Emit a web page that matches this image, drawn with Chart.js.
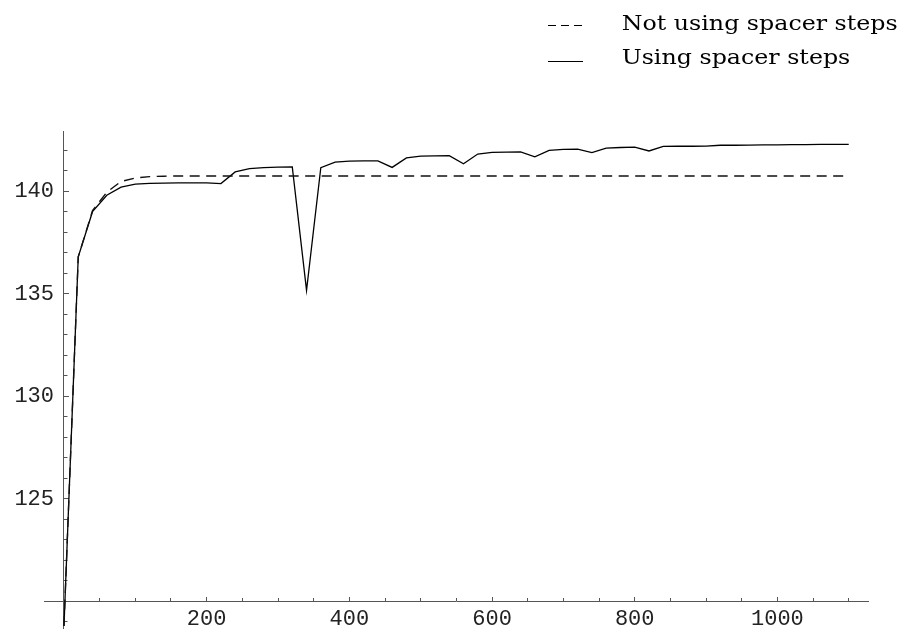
<!DOCTYPE html>
<html>
<head>
<meta charset="utf-8">
<script src="https://cdn.jsdelivr.net/npm/chart.js@4/dist/chart.umd.min.js"></script>
<style>
html,body{margin:0;padding:0;background:#ffffff;}
canvas{display:block;}
</style>
</head>
<body>
<canvas id="c" width="909" height="635"></canvas>
<script>
// ---- data ----
const xValues = [0,20,40,60,80,100,120,140,160,180,200,220,240,260,280,300,320,340,360,380,
  400,420,440,460,480,500,520,540,560,580,600,620,640,660,680,700,720,740,760,780,
  800,820,840,860,880,900,920,940,960,980,1000,1020,1040,1060,1080,1100];

const usingSpacer = [118.8,136.8,139.0,139.8,140.2,140.34,140.38,140.39,140.40,140.40,
  140.40,140.37,140.94,141.10,141.15,141.17,141.18,135.16,141.15,141.42,
  141.47,141.48,141.48,141.16,141.62,141.71,141.72,141.73,141.34,141.81,
  141.89,141.90,141.91,141.67,141.99,142.04,142.05,141.88,142.10,142.13,
  142.15,141.96,142.18,142.19,142.19,142.20,142.24,142.24,142.25,142.26,
  142.26,142.27,142.27,142.28,142.28,142.28];

const notUsingSpacer = [118.8,136.8,139.05,139.95,140.47,140.64,140.71,140.73,140.74,140.74,
  140.74,140.74,140.74,140.74,140.74,140.74,140.74,140.74,140.74,140.74,
  140.74,140.74,140.74,140.74,140.74,140.74,140.74,140.74,140.74,140.74,
  140.74,140.74,140.74,140.74,140.74,140.74,140.74,140.74,140.74,140.74,
  140.74,140.74,140.74,140.74,140.74,140.74,140.74,140.74,140.74,140.74,
  140.74,140.74,140.74,140.74,140.74,140.74];

const seriesNames = ['Not using spacer steps', 'Using spacer steps'];

const xMajorTicks = [200, 400, 600, 800, 1000];
const xMinorTicks = [50,100,150,250,300,350,450,500,550,650,700,750,850,900,950,1050,1100];
const yLabelTicks = [125, 130, 135, 140];
const yMajorTicks = [120, 125, 130, 135, 140];
const yMinorTicks = [119,121,122,123,124,126,127,128,129,131,132,133,134,136,137,138,139,141,142];

// ---- styling ----
const axisGray = '#555555';
const tickFont = {family: "'Liberation Mono', 'DejaVu Sans Mono', monospace", size: 22};
const xRange = {min: -28, max: 1127};
const yRange = {min: 118.7, max: 142.9};

function fixedTicks(values) {
  return scale => { scale.ticks = values.map(v => ({value: v})); };
}
function noSpace(scale) {
  if (scale.isHorizontal()) { scale.height = 0; } else { scale.width = 0; }
  scale.paddingTop = 0; scale.paddingBottom = 0;
  scale.paddingLeft = 0; scale.paddingRight = 0;
}

const keyPlugin = {
  id: 'seriesKey',
  afterDraw(chart, args, opts) {
    const ctx = chart.ctx;
    ctx.save();
    ctx.font = opts.fontSize + 'px ' + opts.fontFamily;
    const widest = Math.max.apply(null, chart.data.datasets.map(d => ctx.measureText(d.label).width));
    const sx = opts.textWidth / widest;
    chart.data.datasets.forEach((ds, i) => {
      const row = opts.rows[i];
      ctx.strokeStyle = '#000000';
      ctx.lineWidth = 1.1;
      ctx.setLineDash(opts.keyDash[i]);
      ctx.beginPath();
      ctx.moveTo(opts.sampleX0, row.lineY);
      ctx.lineTo(opts.sampleX1, row.lineY);
      ctx.stroke();
      ctx.setLineDash([]);
      ctx.fillStyle = '#000000';
      ctx.textAlign = 'left';
      ctx.textBaseline = 'alphabetic';
      ctx.save();
      ctx.translate(opts.textX, row.baseline);
      ctx.scale(sx, 1);
      ctx.fillText(ds.label, 0, 0);
      ctx.restore();
    });
    ctx.restore();
  }
};

new Chart(document.getElementById('c'), {
  type: 'line',
  data: {
    datasets: [
      {
        label: seriesNames[0],
        data: xValues.map((x, i) => ({x: x, y: notUsingSpacer[i]})),
        borderColor: '#111111',
        borderWidth: 1.4,
        borderDash: [10, 6.5],
        pointRadius: 0,
        tension: 0,
        fill: false,
        xAxisID: 'x',
        yAxisID: 'y'
      },
      {
        label: seriesNames[1],
        data: xValues.map((x, i) => ({x: x, y: usingSpacer[i]})),
        borderColor: '#000000',
        borderWidth: 1.3,
        pointRadius: 0,
        tension: 0,
        fill: false,
        xAxisID: 'x',
        yAxisID: 'y'
      }
    ]
  },
  options: {
    responsive: false,
    animation: false,
    devicePixelRatio: 1,
    layout: {padding: {left: 44, right: 41, top: 131.7, bottom: 7}},
    plugins: {
      legend: {display: false},
      tooltip: {enabled: false},
      seriesKey: {
        fontFamily: "'DejaVu Serif', serif",
        fontSize: 21,
        textWidth: 276,
        textX: 621.7,
        sampleX0: 548,
        sampleX1: 583,
        keyDash: [[8, 5], []],
        rows: [{lineY: 25.5, baseline: 30}, {lineY: 61.5, baseline: 63.5}]
      }
    },
    scales: {
      x: {
        type: 'linear', min: xRange.min, max: xRange.max,
        position: {y: 120},
        afterBuildTicks: fixedTicks(xMajorTicks),
        afterFit: noSpace,
        border: {display: true, color: axisGray, width: 1},
        grid: {drawOnChartArea: false, drawTicks: true, tickLength: -5, tickColor: axisGray, tickWidth: 1},
        ticks: {padding: 10, autoSkip: false, maxRotation: 0, font: tickFont, color: '#222222',
                callback: v => String(v)}
      },
      xMinor: {
        type: 'linear', axis: 'x', min: xRange.min, max: xRange.max,
        position: {y: 120},
        afterBuildTicks: fixedTicks(xMinorTicks),
        afterFit: noSpace,
        border: {display: false},
        grid: {drawOnChartArea: false, drawTicks: true, tickLength: -3, tickColor: axisGray, tickWidth: 1},
        ticks: {display: false, autoSkip: false}
      },
      y: {
        type: 'linear', min: yRange.min, max: yRange.max,
        position: {x: -14},
        afterBuildTicks: fixedTicks(yLabelTicks),
        afterFit: noSpace,
        border: {display: false},
        grid: {drawOnChartArea: false, drawTicks: false},
        ticks: {autoSkip: false, font: tickFont, color: '#222222', callback: v => String(v)}
      },
      yAxis: {
        type: 'linear', axis: 'y', min: yRange.min, max: yRange.max,
        position: {x: 0},
        afterBuildTicks: fixedTicks(yMajorTicks),
        afterFit: noSpace,
        border: {display: true, color: axisGray, width: 1},
        grid: {drawOnChartArea: false, drawTicks: true, tickLength: -6, tickColor: axisGray, tickWidth: 1},
        ticks: {display: false, autoSkip: false}
      },
      yMinor: {
        type: 'linear', axis: 'y', min: yRange.min, max: yRange.max,
        position: {x: 0},
        afterBuildTicks: fixedTicks(yMinorTicks),
        afterFit: noSpace,
        border: {display: false},
        grid: {drawOnChartArea: false, drawTicks: true, tickLength: -3.5, tickColor: axisGray, tickWidth: 1},
        ticks: {display: false, autoSkip: false}
      }
    }
  },
  plugins: [keyPlugin]
});
</script>
</body>
</html>
